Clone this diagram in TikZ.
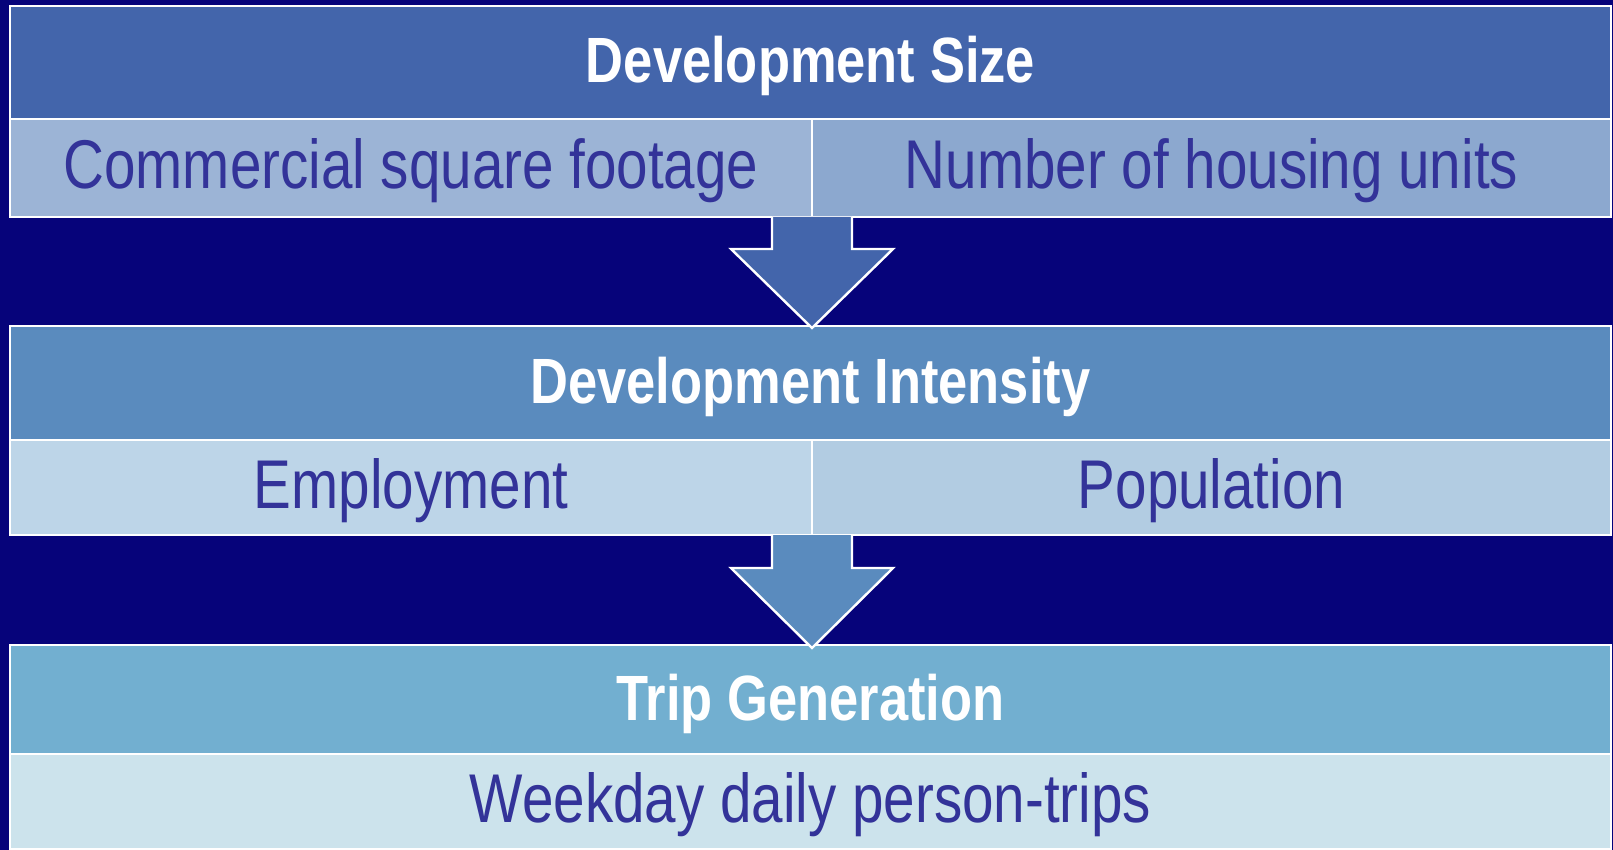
\documentclass[tikz,border=0pt]{standalone}
\usepackage{fontspec}
\setmainfont{Liberation Sans}[FakeStretch=0.82]
\usetikzlibrary{calc}
\definecolor{bgnavy}{HTML}{06037A}
\definecolor{hone}{HTML}{4365AB}
\definecolor{htwo}{HTML}{5A8BBE}
\definecolor{hthree}{HTML}{72AFD0}
\definecolor{sonel}{HTML}{9CB4D6}
\definecolor{soner}{HTML}{8CA8CF}
\definecolor{stwol}{HTML}{BDD5E8}
\definecolor{stwor}{HTML}{B2CCE2}
\definecolor{sthree}{HTML}{CCE3EC}
\definecolor{txtblue}{HTML}{333399}
\tikzset{
  cell/.style={draw=white, line width=2.4pt, inner sep=0pt, outer sep=0pt, anchor=north west},
  headcell/.style={cell, text=white, font=\fontsize{64}{70}\selectfont\bfseries, text height=46pt, text depth=5pt},
  subcell/.style={cell, text=txtblue, font=\fontsize{69}{76}\selectfont, text height=49pt, text depth=8pt},
  blockarrow/.style={draw=white, line width=2.4pt, line join=miter},
}
\begin{document}
\begin{tikzpicture}[x=1pt,y=-1pt]
\fill[bgnavy] (0,0) rectangle (1613,850);
\useasboundingbox (0,0) rectangle (1613,850);
% section 1
\node[headcell, fill=hone, minimum width=1601pt, minimum height=113pt] (h1) at (10,6) {Development Size};
\node[subcell, fill=sonel, minimum width=802pt, minimum height=98pt] (s1l) at (10,119) {Commercial square footage};
\node[subcell, fill=soner, minimum width=799pt, minimum height=98pt] (s1r) at (812,119) {Number of housing units};
% section 2
\node[headcell, fill=htwo, minimum width=1601pt, minimum height=114pt] (h2) at (10,326) {Development Intensity};
\node[subcell, fill=stwol, minimum width=802pt, minimum height=95pt] (s2l) at (10,440) {Employment};
\node[subcell, fill=stwor, minimum width=799pt, minimum height=95pt] (s2r) at (812,440) {Population};
% section 3
\node[headcell, fill=hthree, minimum width=1601pt, minimum height=109pt] (h3) at (10,645) {Trip Generation};
\node[subcell, fill=sthree, minimum width=1601pt, minimum height=95pt] (s3) at (10,754) {Weekday daily person-trips};
% arrows
\coordinate (a1top) at (s1l.south east);
\coordinate (a1tip) at ($(h2.north -| a1top)+(0,2)$);
\draw[blockarrow, fill=hone] ($(a1top)+(-40,0)$) -- ($(a1top)+(-40,32)$) -- ($(a1top)+(-81,32)$) -- (a1tip) -- ($(a1top)+(81,32)$) -- ($(a1top)+(40,32)$) -- ($(a1top)+(40,0)$);
\coordinate (a2top) at (s2l.south east);
\coordinate (a2tip) at ($(h3.north -| a2top)+(0,3)$);
\draw[blockarrow, fill=htwo] ($(a2top)+(-40,0)$) -- ($(a2top)+(-40,33)$) -- ($(a2top)+(-81,33)$) -- (a2tip) -- ($(a2top)+(81,33)$) -- ($(a2top)+(40,33)$) -- ($(a2top)+(40,0)$);
\end{tikzpicture}
\end{document}
